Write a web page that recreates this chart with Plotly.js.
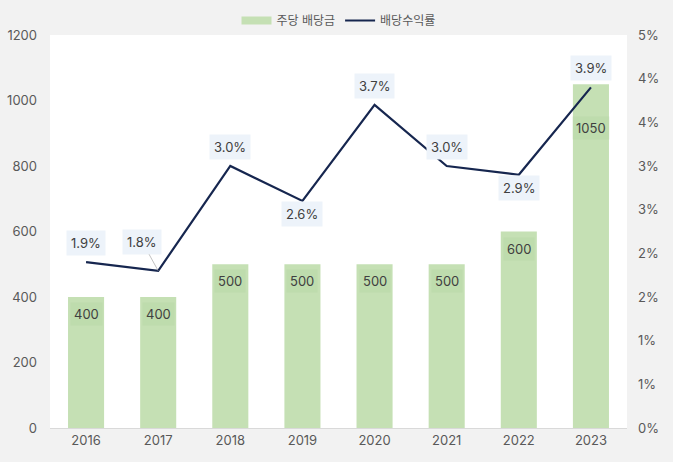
<!DOCTYPE html>
<html><head><meta charset="utf-8">
<script src="https://cdn.plot.ly/plotly-3.0.1.min.js"></script>
<style>html,body{margin:0;padding:0;background:#f2f2f2}</style>
</head><body><div id="chart" style="width:673px;height:462px"></div>
<script>
const years = ['2016','2017','2018','2019','2020','2021','2022','2023'];
const dividend = [400,400,500,500,500,500,600,1050];
const yieldPct = [0.019,0.018,0.030,0.026,0.037,0.030,0.029,0.039];
const yieldLabels = ['1.9%','1.8%','3.0%','2.6%','3.7%','3.0%','2.9%','3.9%'];
const rightTickVals = [0,0.005,0.01,0.015,0.02,0.025,0.03,0.035,0.04,0.045];
const rightTickText = ['0%','1%','1%','2%','2%','3%','3%','4%','4%','5%'];
const labelBelow = [false,false,false,true,false,false,true,false];
const barLabelShift = [-17,-17,-17,-17,-17,-17,-17,-44];

const font = 'Inter, "Noto Sans CJK KR", sans-serif';
const annotations = [];
years.forEach((yr,i)=>{
  annotations.push({x:i,y:dividend[i],xref:'x',yref:'y',text:String(dividend[i]),showarrow:false,
    yshift:barLabelShift[i],bgcolor:'rgba(170,205,150,0.22)',borderpad:3,
    font:{family:font,size:13,color:'#404040'}});
  const a = {x:i,y:yieldPct[i],xref:'x',yref:'y2',text:yieldLabels[i],
    bgcolor:'#edf3fa',borderpad:4,font:{family:font,size:13,color:'#404040'}};
  if (i===1){
    a.showarrow=true; a.arrowhead=0; a.arrowwidth=0.7; a.arrowcolor='#a6a6a6';
    a.ax=-16; a.ay=-29; a.standoff=0;
  } else {
    a.showarrow=false; a.yshift = labelBelow[i] ? -13 : 19;
  }
  annotations.push(a);
});

const data = [
  {type:'bar',x:years,y:dividend,name:'주당 배당금',marker:{color:'#c5e0b4'},width:0.5,yaxis:'y',showlegend:false,legendgroup:'b'},
  {type:'scatter',mode:'lines',x:[null],y:[null],name:'주당 배당금',legendgroup:'b',line:{color:'#c5e0b4',width:8}},
  {type:'scatter',mode:'lines',x:years,y:yieldPct,name:'배당수익률',yaxis:'y2',
   line:{color:'#16264f',width:2.2}}
];
const layout = {
  width:673,height:462,
  paper_bgcolor:'#f2f2f2',plot_bgcolor:'#ffffff',
  margin:{l:50,r:46,t:35,b:34,autoexpand:false},
  font:{family:font,size:13,color:'#595959'},
  showlegend:true,
  legend:{orientation:'h',x:0.5,xanchor:'center',y:1.0,yanchor:'bottom',font:{family:font,size:12,color:'#595959'},tracegroupgap:0},
  xaxis:{type:'category',showgrid:false,showline:true,linecolor:'#d9d9d9',linewidth:1,ticks:'',tickfont:{size:13,color:'#595959'}},
  yaxis:{range:[0,1200],dtick:200,showgrid:false,zeroline:false,showline:false,ticks:'',ticklabelstandoff:12,tickfont:{size:13,color:'#595959'}},
  yaxis2:{overlaying:'y',side:'right',range:[0,0.045],tickvals:rightTickVals,ticktext:rightTickText,showgrid:false,zeroline:false,showline:false,ticks:'',ticklabelstandoff:10,tickfont:{size:13,color:'#595959'}},
  annotations:annotations
};
Plotly.newPlot('chart',data,layout,{displayModeBar:false});
</script></body></html>
